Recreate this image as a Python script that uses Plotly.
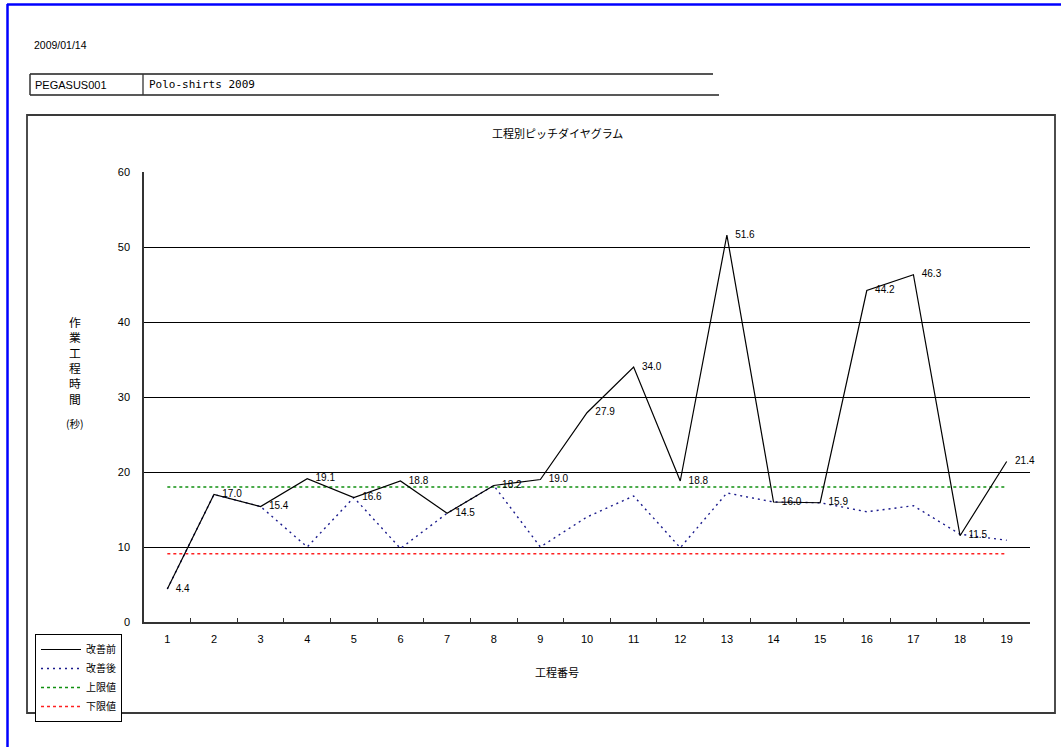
import plotly.graph_objects as go

# ---- data -------------------------------------------------------------
processes = [str(i) for i in range(1, 20)]
before = [4.4, 17.0, 15.4, 19.1, 16.6, 18.8, 14.5, 18.2, 19.0, 27.9,
          34.0, 18.8, 51.6, 16.0, 15.9, 44.2, 46.3, 11.5, 21.4]
after = [4.4, 17.0, 15.4, 10.0, 16.6, 9.8, 14.5, 18.2, 10.0, 14.0,
         16.8, 9.9, 17.2, 16.0, 15.9, 14.7, 15.5, 11.7, 10.9]
upper_limit = [18.0] * 19
lower_limit = [9.1] * 19

series_names = ["改善前", "改善後", "上限値", "下限値"]
y_ticks = [0, 10, 20, 30, 40, 50, 60]

report_date = "2009/01/14"
report_code = "PEGASUS001"
report_name = "Polo-shirts 2009"
chart_title = "工程別ピッチダイヤグラム"
x_title = "工程番号"
y_title = "作業工程時間"
y_unit = "(秒)"

# ---- page geometry (pixels) -------------------------------------------
W, H = 1061, 747
L, R, T, B = 144, 31, 172, 125
PW, PH = W - L - R, H - T - B


def px(xp):
    return (xp - L) / PW


def py(yp):
    return (H - B - yp) / PH


JP = "Noto Sans CJK JP"
NUM = "Liberation Sans"
PAD = "\u00a0\u00a0\u00a0"  # gap between a point and its value label

fig = go.Figure()

fig.add_trace(go.Scatter(
    x=processes, y=lower_limit, name=series_names[3], mode="lines",
    line=dict(color="#ff2020", width=1.3, dash="3px,3px"), legendrank=4))
fig.add_trace(go.Scatter(
    x=processes, y=upper_limit, name=series_names[2], mode="lines",
    line=dict(color="#109010", width=1.3, dash="3px,3px"), legendrank=3))
fig.add_trace(go.Scatter(
    x=processes, y=after, name=series_names[1], mode="lines",
    line=dict(color="#1a1a8c", width=1.4, dash="2px,4px"), legendrank=2))
fig.add_trace(go.Scatter(
    x=processes, y=before, name=series_names[0], mode="lines+text",
    line=dict(color="#000000", width=1.2),
    text=[f"{PAD}{v:.1f}" for v in before], textposition="middle right",
    textfont=dict(family=NUM, size=10, color="#000000"),
    cliponaxis=False, legendrank=1))

shapes = []


def line(x0, y0, x1, y1, color="#333333", width=1.5):
    shapes.append(dict(type="line", xref="paper", yref="paper",
                       x0=px(x0), y0=py(y0), x1=px(x1), y1=py(y1),
                       line=dict(color=color, width=width)))


# blue page frame
line(7, 4.5, W + 5, 4.5, color="#0000ff", width=2.5)
line(7.5, 4, 7.5, H + 5, color="#0000ff", width=2.5)
# header table
line(30, 74, 713, 74, color="#555555", width=1.8)
line(30, 95, 719, 95, color="#222222", width=1.5)
line(30, 74, 30, 95, color="#333333", width=1.5)
line(143, 74, 143, 95, color="#333333", width=1.3)
# chart frame
shapes.append(dict(type="rect", xref="paper", yref="paper",
                   x0=px(27), y0=py(115), x1=px(1055), y1=py(713),
                   line=dict(color="#3a3a3a", width=1.8)))

annotations = [
    dict(text=report_date, x=px(32), y=py(45), xanchor="left", yanchor="middle",
         font=dict(family=NUM, size=10.5, color="#000")),
    dict(text=report_code, x=px(33), y=py(84.5), xanchor="left", yanchor="middle",
         font=dict(family=NUM, size=11, color="#000")),
    dict(text=report_name, x=px(147), y=py(84.5), xanchor="left", yanchor="middle",
         font=dict(family="DejaVu Sans Mono", size=11, color="#000")),
    dict(text=chart_title, x=px(557), y=py(133), xanchor="center", yanchor="middle",
         font=dict(family=JP, size=11, color="#000")),
    dict(text=x_title, x=px(557), y=py(672), xanchor="center", yanchor="middle",
         font=dict(family=JP, size=11, color="#000")),
    dict(text="<br>".join(y_title), x=px(75), y=py(323 - 12), xanchor="center",
         yanchor="top", font=dict(family=JP, size=11.8, color="#000")),
    dict(text=y_unit, x=px(75), y=py(423), xanchor="center", yanchor="middle",
         font=dict(family=JP, size=10.5, color="#000")),
]
for a in annotations:
    a.update(xref="paper", yref="paper", showarrow=False)

fig.update_layout(
    width=W, height=H,
    margin=dict(l=L, r=R, t=T, b=B, pad=0),
    paper_bgcolor="white", plot_bgcolor="white",
    showlegend=True,
    legend=dict(x=px(35), y=py(634), xanchor="left", yanchor="top",
                bordercolor="#000000", borderwidth=1, bgcolor="white",
                font=dict(family=JP, size=10, color="#000"),
                tracegroupgap=0, itemwidth=40),
    shapes=shapes, annotations=annotations,
    xaxis=dict(type="category", range=[-0.5, 18.5], tickson="boundaries",
               ticks="inside", ticklen=4, tickcolor="#333", showgrid=False,
               showline=True, linecolor="#333", linewidth=1.5,
               tickfont=dict(family=NUM, size=11, color="#000"),
               ticklabelstandoff=6, fixedrange=True),
    yaxis=dict(range=[0, 60], tickvals=y_ticks, showgrid=True,
               gridcolor="#000000", gridwidth=1, zeroline=False,
               showline=True, linecolor="#333", linewidth=1.5, ticks="",
               tickfont=dict(family=NUM, size=11, color="#000"),
               ticklabelstandoff=10, fixedrange=True),
)

fig.write_html("out.html")
